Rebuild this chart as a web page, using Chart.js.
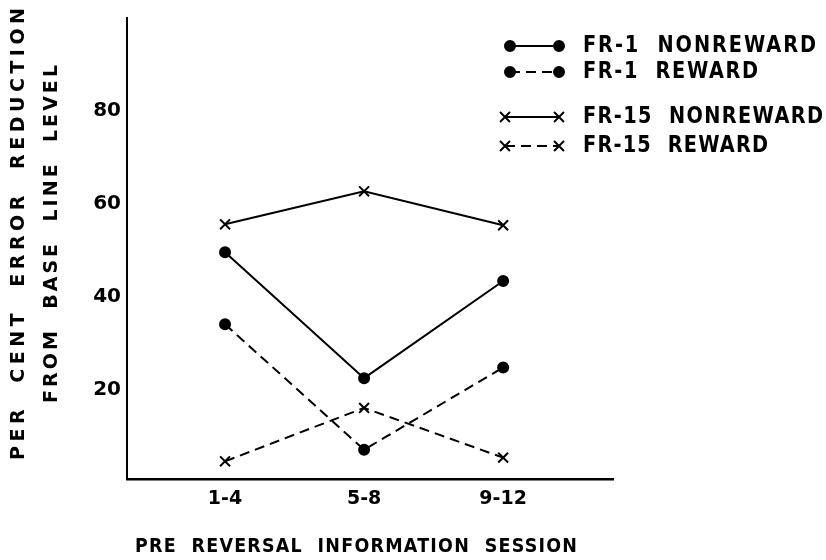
<!DOCTYPE html>
<html>
<head>
<meta charset="utf-8">
<script src="https://cdn.jsdelivr.net/npm/chart.js@4"></script>
<style>
  html, body { margin: 0; padding: 0; background: #fff; }
  #wrap { width: 826px; height: 560px; }
</style>
</head>
<body>
<div id="wrap"><canvas id="chart"></canvas></div>
<script>
const xLabels = ["1-4", "5-8", "9-12"];
const yTicks = [20, 40, 60, 80];
const fr1Nonreward = [49.6, 22.5, 43.4];
const fr1Reward = [34.1, 7.1, 24.8];
const fr15Nonreward = [55.6, 62.7, 55.4];
const fr15Reward = [4.6, 16.1, 5.4];
const seriesNames = ["FR-1  NONREWARD", "FR-1  REWARD", "FR-15  NONREWARD", "FR-15  REWARD"];
const yTitle = ["PER  CENT  ERROR  REDUCTION", "FROM  BASE  LINE  LEVEL"];
const xTitle = "PRE  REVERSAL  INFORMATION  SESSION";

const FONT = "'DejaVu Sans', sans-serif";

function toPoints(values) {
  return values.map((v, i) => ({ x: i, y: v }));
}

// draw text spread to a given width, starting at x; hs squeezes the glyphs
function spreadText(ctx, text, x, y, width, hs) {
  hs = hs || 1;
  ctx.save();
  ctx.translate(x, y);
  ctx.scale(hs, 1);
  ctx.letterSpacing = "0px";
  const w = ctx.measureText(text).width;
  const ls = (width / hs - w) / (text.length - 1);
  ctx.letterSpacing = ls + "px";
  ctx.textAlign = "left";
  ctx.fillText(text, 0, 0);
  ctx.restore();
}

const extras = {
  id: "extras",
  afterDraw(chart) {
    const ctx = chart.ctx;
    ctx.save();
    ctx.fillStyle = "#000";
    ctx.strokeStyle = "#000";
    ctx.textBaseline = "middle";

    // y axis title, two lines
    ctx.font = "bold 19px " + FONT;
    ctx.save();
    ctx.translate(19, 234);
    ctx.rotate(-Math.PI / 2);
    spreadText(ctx, yTitle[0], -226, 0, 452);
    ctx.restore();
    ctx.save();
    ctx.translate(52, 234);
    ctx.rotate(-Math.PI / 2);
    spreadText(ctx, yTitle[1], -169, 0, 338);
    ctx.restore();

    // x axis title
    ctx.font = "bold 19px " + FONT;
    spreadText(ctx, xTitle, 135, 547, 442, 0.92);

    // legend
    const rows = [46, 72, 117, 146];
    const widths = [233, 175, 240, 185];
    chart.data.datasets.forEach((ds, i) => {
      const y = rows[i];
      const x1 = ds.pointStyle === "circle" ? 510 : 505;
      const x2 = 559;
      ctx.save();
      ctx.lineWidth = ds.borderWidth;
      ctx.setLineDash(ds.borderDash || []);
      ctx.beginPath();
      ctx.moveTo(x1, y);
      ctx.lineTo(x2, y);
      ctx.stroke();
      ctx.setLineDash([]);
      ctx.fillStyle = "#000";
      const opts = { pointStyle: ds.pointStyle, radius: ds.pointRadius, borderWidth: ds.pointBorderWidth, rotation: 0 };
      Chart.helpers.drawPoint(ctx, opts, x1, y);
      Chart.helpers.drawPoint(ctx, opts, x2, y);
      ctx.restore();
      ctx.font = "bold 23px " + FONT;
      spreadText(ctx, ds.label, 583, y, widths[i], 0.84);
    });
    ctx.restore();
  }
};

function lineSet(label, values, dashed, style) {
  return {
    label: label,
    data: toPoints(values),
    borderColor: "#000",
    backgroundColor: "#000",
    borderWidth: 2,
    borderDash: dashed ? [10, 6] : [],
    pointStyle: style,
    pointRadius: style === "circle" ? 5 : 7,
    pointBorderWidth: 2,
    pointBackgroundColor: "#000",
    pointBorderColor: "#000",
    tension: 0
  };
}

new Chart(document.getElementById("chart"), {
  type: "line",
  data: {
    datasets: [
      lineSet(seriesNames[0], fr1Nonreward, false, "circle"),
      lineSet(seriesNames[1], fr1Reward, true, "circle"),
      lineSet(seriesNames[2], fr15Nonreward, false, "crossRot"),
      lineSet(seriesNames[3], fr15Reward, true, "crossRot")
    ]
  },
  options: {
    responsive: true,
    maintainAspectRatio: false,
    animation: false,
    layout: { padding: { top: 8, right: 213, left: 0, bottom: 0 } },
    plugins: { legend: { display: false }, tooltip: { enabled: false } },
    scales: {
      x: {
        type: "linear",
        min: -0.705,
        max: 2.79,
        grid: { display: false, drawTicks: false },
        border: { display: true, color: "#000", width: 2.5 },
        afterBuildTicks: scale => { scale.ticks = xLabels.map((_, i) => ({ value: i })); },
        afterFit: scale => { scale.height = 81; },
        ticks: {
          padding: 9,
          color: "#000",
          font: { family: FONT, size: 19, weight: "bold" },
          callback: v => xLabels[v]
        }
      },
      y: {
        min: 0.8,
        max: 100,
        grid: { display: false, drawTicks: false },
        border: { display: true, color: "#000", width: 2 },
        afterBuildTicks: scale => { scale.ticks = yTicks.map(v => ({ value: v })); },
        afterFit: scale => { scale.width = 127; },
        ticks: {
          padding: 6,
          color: "#000",
          font: { family: FONT, size: 20, weight: "bold" }
        }
      }
    }
  },
  plugins: [extras]
});
</script>
</body>
</html>
